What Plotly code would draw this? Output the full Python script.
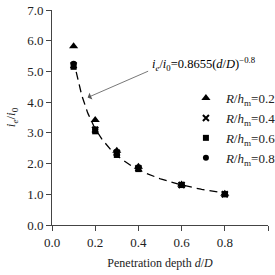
import numpy as np
import plotly.graph_objects as go

depth = [0.1, 0.2, 0.3, 0.4, 0.6, 0.8]
r02 = [5.82, 3.42, 2.42, 1.90, 1.32, 1.02]
r04 = [5.20, 3.10, 2.35, 1.85, 1.30, 1.00]
r06 = [5.15, 3.05, 2.28, 1.82, 1.30, 1.00]
r08 = [5.25, 3.12, 2.30, 1.86, 1.30, 1.00]
fit_a = 0.8655
fit_b = -0.8
fit_range = [0.112, 0.8]

FONT = "Liberation Serif"
fig = go.Figure()
xf = np.linspace(fit_range[0], fit_range[1], 200)
fig.add_trace(go.Scatter(x=xf, y=fit_a * xf ** fit_b, mode="lines",
                         line=dict(color="black", width=1.3, dash="8px,5px"),
                         showlegend=False, hoverinfo="skip"))
series = [(r02, "triangle-up", "0.2", 8), (r04, "x-thin", "0.4", 6),
          (r06, "square", "0.6", 6), (r08, "circle", "0.8", 6)]
for vals, sym, lab, sz in series:
    mk = dict(symbol=sym, size=sz, color="black")
    if sym == "x-thin":
        mk = dict(symbol=sym, size=sz, color="black", line=dict(width=2, color="black"))
    fig.add_trace(go.Scatter(x=depth, y=vals, mode="markers", marker=mk,
                             name=f"<i>R</i>/<i>h</i><sub>m</sub>=" + lab))

fig.add_annotation(x=0.165, y=4.15, ax=62, ay=-27, axref="pixel", ayref="pixel",
                   xref="x", yref="y", showarrow=True, arrowhead=1, arrowsize=1.5,
                   arrowwidth=0.8, arrowcolor="#555", text="", standoff=0)
fig.add_annotation(x=0.452, y=5.23, xref="x", yref="y", xanchor="left", yanchor="middle",
                   showarrow=False,
                   text="<i>i</i><sub><i>e</i></sub>/<i>i</i><sub>0</sub>=0.8655(<i>d</i>/<i>D</i>)<sup>−0.8</sup>",
                   font=dict(family=FONT, size=12.5, color="black"))

axis_common = dict(showline=True, linecolor="#444", linewidth=1, ticks="outside",
                   ticklen=5, tickcolor="#444", showgrid=False, zeroline=False,
                   tickfont=dict(family=FONT, size=13, color="#222"), tickformat=".1f")
fig.update_xaxes(range=[0, 1], dtick=0.2, **axis_common,
                 title=dict(text="Penetration depth <i>d</i>/<i>D</i>",
                            font=dict(family=FONT, size=12, color="#222"), standoff=10))
fig.update_yaxes(range=[0, 7], dtick=1, **axis_common,
                 title=dict(text="<i>i</i><sub><i>e</i></sub>/<i>i</i><sub>0</sub>",
                            font=dict(family=FONT, size=13, color="#222"), standoff=8))
fig.update_layout(width=275, height=275,
                  margin=dict(l=52, r=7, t=10, b=50, autoexpand=False),
                  plot_bgcolor="white", paper_bgcolor="white",
                  font=dict(family=FONT),
                  legend=dict(x=0.62, y=0.66, xanchor="left", yanchor="top",
                              font=dict(family=FONT, size=13, color="#222"),
                              bgcolor="rgba(0,0,0,0)", tracegroupgap=0,
                              itemwidth=30))
fig.write_html("out.html")
